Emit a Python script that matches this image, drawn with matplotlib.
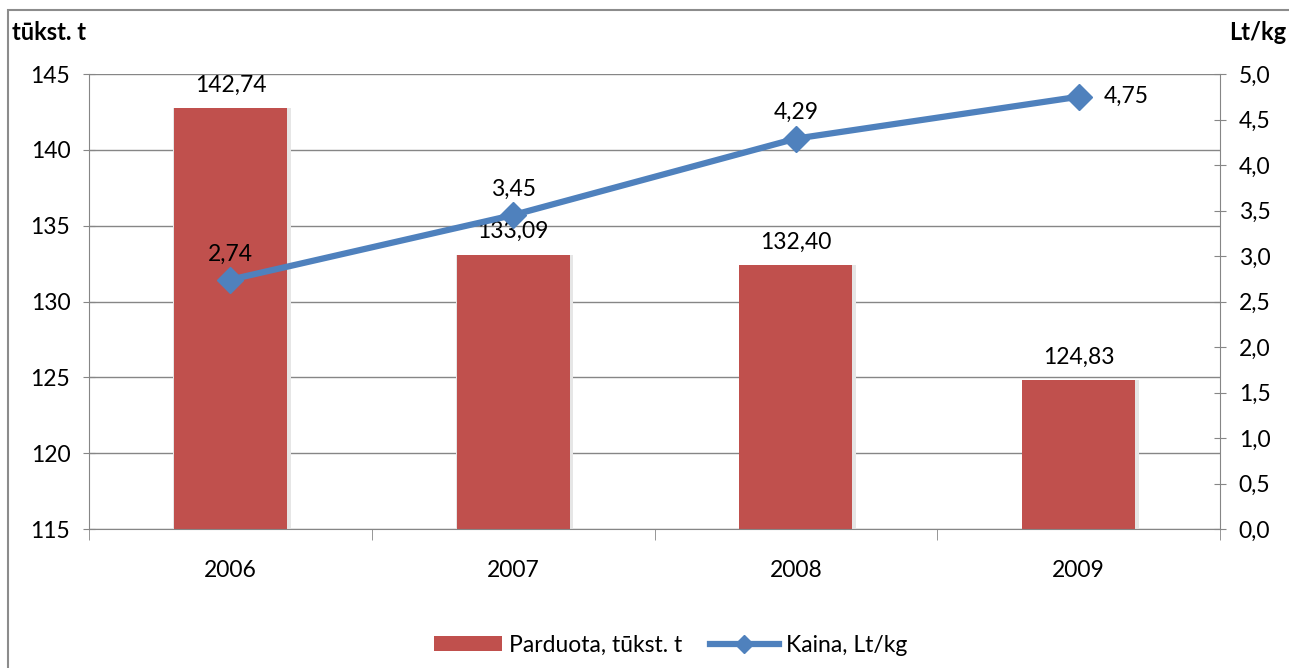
import matplotlib.pyplot as plt
from matplotlib.patches import Rectangle
import numpy as np

plt.rcParams['font.family'] = ['Lato', 'DejaVu Sans']

years = ["2006", "2007", "2008", "2009"]
sold = [142.74, 133.09, 132.40, 124.83]
price = [2.74, 3.45, 4.29, 4.75]
sold_labels = ["142,74", "133,09", "132,40", "124,83"]
price_labels = ["2,74", "3,45", "4,29", "4,75"]

red = "#C0504D"
blue = "#4F81BD"
grid = "#868686"
fs = 16.5

fig = plt.figure(figsize=(12.89, 6.68), dpi=100)
ax = fig.add_axes([89 / 1289, 1 - 529 / 668, (1220 - 89) / 1289, (529 - 74) / 668])

x = np.arange(len(years))
ax.bar(x + 0.006, [s - 115 for s in sold], bottom=115, width=0.415, color="#e6e6e6", zorder=1)
bars = ax.bar(x, [s - 115 for s in sold], bottom=115, width=0.4, color=red, zorder=2,
              label="Parduota, tūkst. t")
ax.set_xlim(-0.5, 3.5)
ax.set_ylim(115, 145)
ax.set_yticks(np.arange(115, 146, 5))
ax.set_xticks(x)
ax.set_xticklabels(years)
ax.set_xticks(np.arange(-0.5, 3.6, 1), minor=True)
ax.tick_params(axis="x", which="major", length=0, pad=22, labelsize=fs)
ax.tick_params(axis="x", which="minor", length=8, direction="out", color=grid)
ax.tick_params(axis="y", length=9, direction="inout", color=grid, labelsize=fs, pad=9)
ax.grid(axis="y", color=grid, linewidth=1)
ax.set_axisbelow(True)
for side in ["top", "right"]:
    ax.spines[side].set_visible(False)
for side in ["left", "bottom"]:
    ax.spines[side].set_color(grid)

for i, s in enumerate(sold):
    ax.annotate(sold_labels[i], (x[i], s), xytext=(0, 9), textcoords="offset points",
                ha="center", va="bottom", fontsize=fs)

ax2 = ax.twinx()
ax2.set_ylim(0, 5)
ax2.set_yticks(np.arange(0, 5.01, 0.5))
ax2.set_yticklabels([f"{v:.1f}".replace(".", ",") for v in np.arange(0, 5.01, 0.5)])
ax2.tick_params(axis="y", length=9, direction="inout", color=grid, labelsize=fs, pad=9)
for side in ["top", "left", "bottom"]:
    ax2.spines[side].set_visible(False)
ax2.spines["right"].set_color(grid)
line, = ax2.plot(x, price, color=blue, linewidth=4.5, marker="D", markersize=13,
                 markeredgecolor=blue, label="Kaina, Lt/kg", zorder=3)
for i, p in enumerate(price):
    if i == 3:
        ax2.annotate(price_labels[i], (x[i], p), xytext=(18, 0), textcoords="offset points",
                     ha="left", va="center", fontsize=fs)
    else:
        ax2.annotate(price_labels[i], (x[i], p), xytext=(0, 11), textcoords="offset points",
                     ha="center", va="bottom", fontsize=fs)

fig.text(12 / 1289, 1 - 33 / 668, "tūkst. t", fontsize=17, fontweight="bold", va="center")
fig.text(1286 / 1289, 1 - 33 / 668, "Lt/kg", fontsize=17, fontweight="bold", va="center", ha="right")

fig.patches.append(Rectangle((8 / 1289, -0.1), 1.2, 1 - 10 / 668 + 0.1, transform=fig.transFigure,
                             fill=False, edgecolor="#8c8c8c", linewidth=1.5))

leg = fig.legend(handles=[bars, line], loc="center", bbox_to_anchor=(0.52, 1 - 645 / 668), ncol=2,
                 frameon=False, fontsize=fs, handlelength=3, handleheight=0.6,
                 columnspacing=1.2, handletextpad=0.3)
for h in leg.legend_handles:
    if hasattr(h, "set_markersize"):
        h.set_markersize(9)

fig.savefig("out.png", dpi=100)
